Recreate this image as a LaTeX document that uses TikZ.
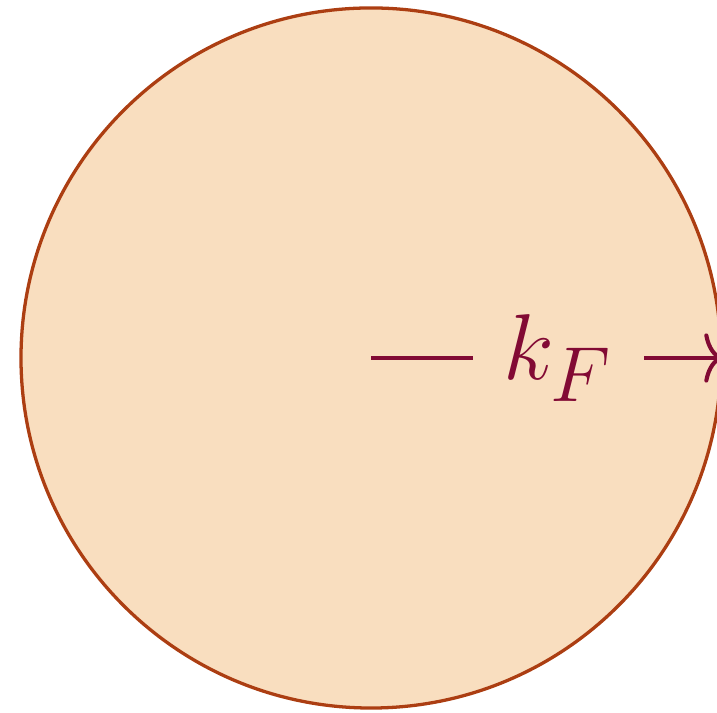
\documentclass[tikz,border=0pt]{standalone}
\usepackage{graphicx}
\usepackage{xcolor}
\usepackage{tikz}
\usetikzlibrary{arrows.meta, positioning, calc}

\definecolor{seafill}{RGB}{249,222,191}
\definecolor{seaedge}{RGB}{172,62,18}
\definecolor{kfcolor}{RGB}{130,10,52}

\begin{document}
\begin{tikzpicture}[
    fermi/.style={circle, draw=seaedge, fill=seafill, thick, minimum size=6cm, inner sep=0pt},
    radius arrow/.style={-{To[length=4.5pt, width=12pt]}, kfcolor, line width=1pt},
    lbl/.style={fill=seafill, text=kfcolor, inner xsep=7.5pt, inner ysep=3pt, font=\Huge}
]
\useasboundingbox (-3.18,-3.042) rectangle (2.965,3.068);
\node[fermi] (sea) at (0,0) {};
\coordinate (c) at (sea.center);
\draw[radius arrow] (c) -- (sea.east) node[lbl, pos=0.532] (kf) {\scalebox{0.917}{$k_F$}};
\end{tikzpicture}
\end{document}
